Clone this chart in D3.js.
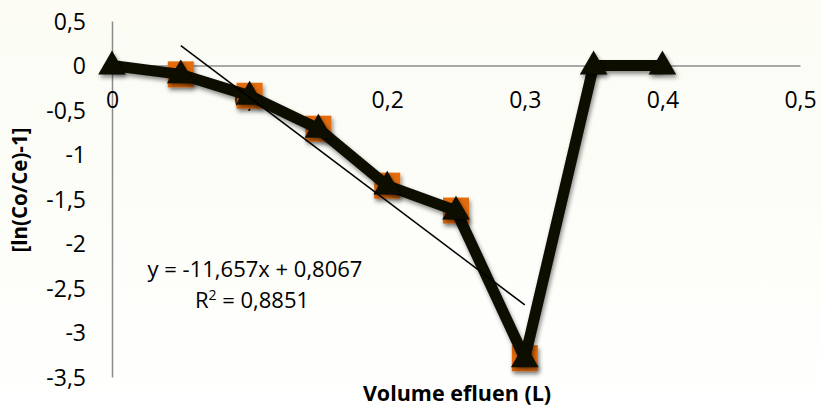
<!DOCTYPE html>
<html>
<head>
<meta charset="utf-8">
<script src="https://cdn.jsdelivr.net/npm/d3@7"></script>
<style>
  html, body { margin: 0; padding: 0; background: #ffffff; }
  svg { display: block; }
  text { font-family: "Open Sans", "Noto Sans", sans-serif; fill: #000; }
</style>
</head>
<body>
<svg id="chart" width="821" height="416"></svg>
<script>
// ---- data ----
const volumes = [0, 0.05, 0.1, 0.15, 0.2, 0.25, 0.3, 0.35, 0.4];
const blackValues = [0, -0.1, -0.34, -0.71, -1.35, -1.63, -3.29, 0, 0];
const orangeVolumes = [0.05, 0.1, 0.15, 0.2, 0.25, 0.3];
const orangeValues = [-0.1, -0.34, -0.71, -1.35, -1.63, -3.29];
const trendSlope = -11.657;
const trendIntercept = 0.8067;
const xTicks = [0, 0.1, 0.2, 0.3, 0.4, 0.5];
const yTicks = [0.5, 0, -0.5, -1, -1.5, -2, -2.5, -3, -3.5];
const equationText = "y = -11,657x + 0,8067";
const r2Value = "0,8851";
const xTitle = "Volume efluen (L)";
const yTitle = "[ln(Co/Ce)-1]";

const svg = d3.select("#chart");

// soft cream tint in the upper area
const defs = svg.append("defs");
const grad = defs.append("linearGradient").attr("id", "bg").attr("x1", 0).attr("y1", 0).attr("x2", 0).attr("y2", 1);
grad.append("stop").attr("offset", "0%").attr("stop-color", "#fcfcf5");
grad.append("stop").attr("offset", "60%").attr("stop-color", "#fdfdf9");
grad.append("stop").attr("offset", "100%").attr("stop-color", "#ffffff");
svg.append("rect").attr("width", 821).attr("height", 416).attr("fill", "url(#bg)");

const shadow = defs.append("filter").attr("id", "shadow").attr("x", "-50%").attr("y", "-50%").attr("width", "200%").attr("height", "200%");
shadow.append("feDropShadow").attr("dx", 1.5).attr("dy", 3).attr("stdDeviation", 2).attr("flood-color", "#000").attr("flood-opacity", 0.45);

const x = d3.scaleLinear().domain([0, 0.5]).range([112, 800]);
const y = d3.scaleLinear().domain([-3.5, 0.5]).range([377, 21]);

const fmt = v => String(+v.toFixed(2)).replace(".", ",").replace("\u2212", "-");

// axes (no tick marks)
const yAxis = d3.axisLeft(y).tickValues(yTicks).tickSize(0).tickPadding(0).tickFormat(fmt);
const gy = svg.append("g").attr("transform", `translate(${x(0)},0)`).call(yAxis);
gy.select(".domain").attr("stroke", "#8c8c8c").attr("stroke-width", 1.5);
gy.selectAll("text").attr("x", -26).attr("dy", "0.36em").style("font-size", "23px").attr("text-anchor", "end");

const xAxis = d3.axisBottom(x).tickValues(xTicks).tickSize(0).tickPadding(0).tickFormat(fmt);
const gx = svg.append("g").attr("transform", `translate(0,${y(0)})`).call(xAxis);
gx.select(".domain").attr("stroke", "#8c8c8c").attr("stroke-width", 1.5);
gx.selectAll("text").attr("y", 34).attr("dy", "0.36em").style("font-size", "23px");

// orange series markers
svg.append("g").selectAll("rect").data(orangeVolumes.map((v, i) => [v, orangeValues[i]]))
  .join("rect")
  .attr("x", d => x(d[0]) - 13).attr("y", d => y(d[1]) - 13)
  .attr("width", 26).attr("height", 26)
  .attr("fill", "#e46c0a")
  .attr("filter", "url(#shadow)");

// black series line
const pts = volumes.map((v, i) => [v, blackValues[i]]);
svg.append("path").datum(pts)
  .attr("d", d3.line().x(d => x(d[0])).y(d => y(d[1])))
  .attr("fill", "none").attr("stroke", "#0a0a02").attr("stroke-width", 11)
  .attr("stroke-linejoin", "round")
  .attr("filter", "url(#shadow)");

// black triangle markers
const tri = d3.symbol().type(d3.symbolTriangle).size(330);
svg.append("g").selectAll("path").data(pts).join("path")
  .attr("d", tri)
  .attr("transform", d => `translate(${x(d[0])},${y(d[1]) + 1})`)
  .attr("fill", "#0a0a02")
  .attr("filter", "url(#shadow)");

// linear trendline over the orange series range
const tx = d3.extent(orangeVolumes);
svg.append("line")
  .attr("x1", x(tx[0])).attr("y1", y(trendSlope * tx[0] + trendIntercept))
  .attr("x2", x(tx[1])).attr("y2", y(trendSlope * tx[1] + trendIntercept))
  .attr("stroke", "#000").attr("stroke-width", 1.5);

// equation labels
svg.append("text").attr("x", 255).attr("y", 277).attr("text-anchor", "middle")
  .style("font-size", "22px").text(equationText);
const r2 = svg.append("text").attr("x", 252).attr("y", 308).attr("text-anchor", "middle").style("font-size", "22px");
r2.append("tspan").text("R");
r2.append("tspan").attr("dy", -8).style("font-size", "14px").text("2");
r2.append("tspan").attr("dy", 8).text(" = " + r2Value);

// axis titles
svg.append("text").attr("x", 457).attr("y", 401).attr("text-anchor", "middle")
  .style("font-size", "21.5px").style("font-weight", "bold").text(xTitle);
svg.append("text").attr("transform", "translate(27,190) rotate(-90)").attr("text-anchor", "middle")
  .style("font-size", "20.5px").style("font-weight", "bold").text(yTitle);
</script>
</body>
</html>
